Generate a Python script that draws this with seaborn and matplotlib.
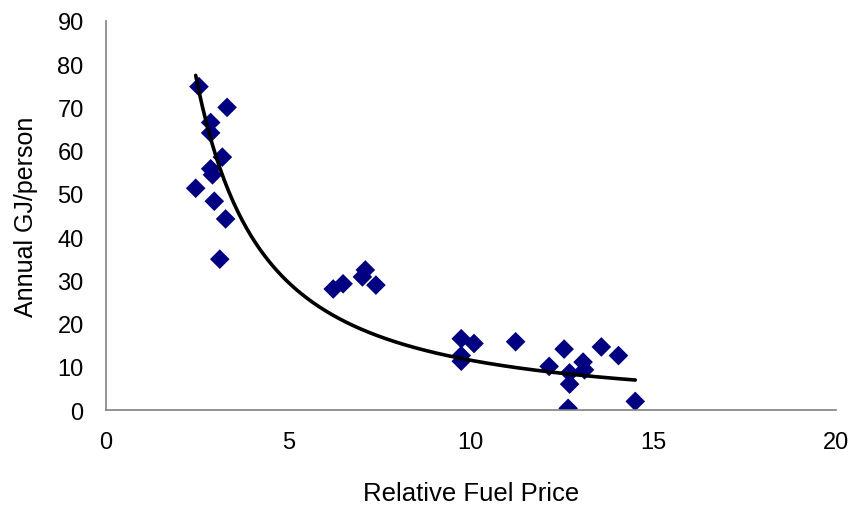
import numpy as np
import pandas as pd
import matplotlib
matplotlib.use("Agg")
import matplotlib.pyplot as plt
import seaborn as sns

price = [2.55, 3.32, 2.87, 2.87, 3.19, 2.87, 2.92, 2.46, 2.97, 3.28, 3.12,
         6.23, 6.50, 7.11, 7.03, 7.40,
         9.74, 10.09, 9.74, 9.74, 11.23, 12.56, 12.15, 12.71, 12.71, 12.67,
         13.08, 13.12, 13.58, 14.05, 14.51]
energy = [74.8, 70.0, 66.5, 64.1, 58.5, 55.8, 54.4, 51.3, 48.3, 44.2, 34.9,
          28.0, 29.2, 32.4, 30.8, 28.9,
          16.5, 15.4, 12.6, 11.3, 15.8, 14.1, 10.1, 8.6, 6.0, 0.4,
          11.1, 9.3, 14.6, 12.6, 2.0]

df = pd.DataFrame({"price": price, "energy": energy})

sns.set_theme(style="white")
plt.rcParams['font.family'] = ['Liberation Sans', 'DejaVu Sans']

fig = plt.figure(figsize=(8.58, 5.10), dpi=100)
ax = fig.add_axes([0.1235, 0.194, 0.8503, 0.763])

# power-law trendline fitted to the data
b, loga = np.polyfit(np.log(df["price"]), np.log(df["energy"]), 1)
xs = np.linspace(df["price"].min(), df["price"].max(), 200)
ax.plot(xs, np.exp(loga) * xs ** b, color="black", lw=2.6, zorder=3)

sns.scatterplot(data=df, x="price", y="energy", marker="D", s=100,
                color="#000080", edgecolor="none", ax=ax, zorder=2)

ax.set_xlim(0, 20)
ax.set_ylim(0, 90)
ax.set_xticks([0, 5, 10, 15, 20])
ax.set_yticks(range(0, 91, 10))
ax.set_xlabel("Relative Fuel Price", fontsize=18.5, color="black", labelpad=20)
ax.set_ylabel("Annual GJ/person", fontsize=18, color="black", labelpad=14)
for s in ["top", "right"]:
    ax.spines[s].set_visible(False)
for s in ["left", "bottom"]:
    ax.spines[s].set_color("#808080")
    ax.spines[s].set_linewidth(1.2)
ax.tick_params(axis="both", direction="out", length=7, width=1.2,
               color="#808080", labelsize=17, labelcolor="black")
ax.tick_params(axis="x", pad=8)
ax.tick_params(axis="y", pad=9)
ax.margins(0)

fig.savefig("out.png", dpi=100)
